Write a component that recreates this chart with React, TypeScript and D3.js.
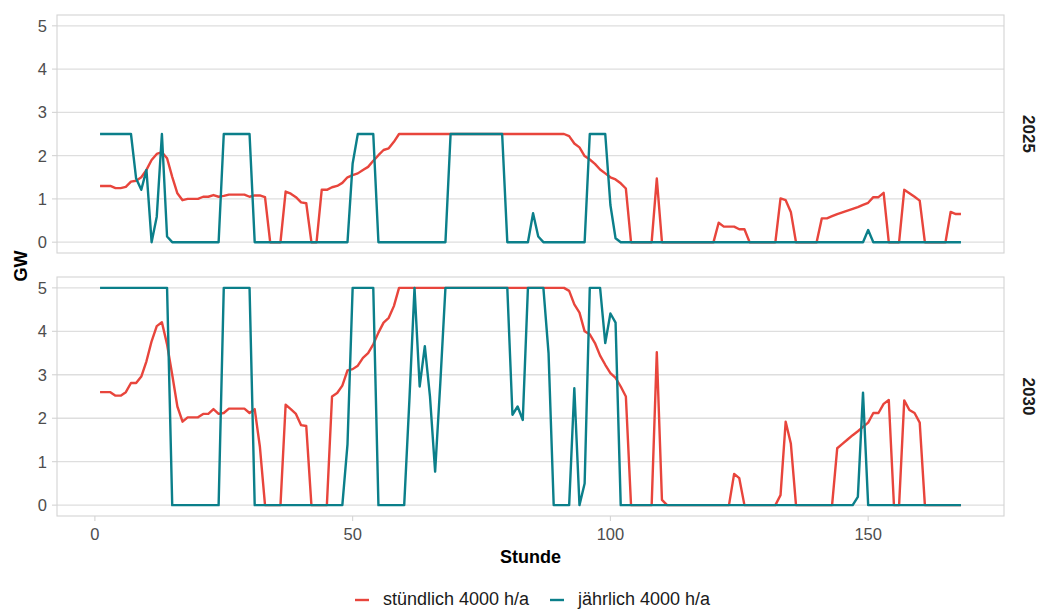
import React from 'react';
import * as d3 from 'd3';

// ---- data ----
const HOURS: number[] = Array.from({ length: 168 }, (_, i) => i + 1);
const PANELS = ['2025', '2030'];
const Y_TICKS = [0, 1, 2, 3, 4, 5];
const X_TICKS = [0, 50, 100, 150];
const SERIES_NAMES = ['stündlich 4000 h/a', 'jährlich 4000 h/a'];
const X_TITLE = 'Stunde';
const Y_TITLE = 'GW';

const stuendlich2025 = [
  1.30, 1.30, 1.30, 1.25, 1.25, 1.28, 1.40, 1.42, 1.50, 1.67,
  1.90, 2.04, 2.08, 1.94, 1.51, 1.13, 0.97, 1.00, 1.00, 1.00,
  1.05, 1.05, 1.09, 1.05, 1.07, 1.10, 1.10, 1.10, 1.10, 1.05,
  1.08, 1.08, 1.04, 0, 0, 0, 1.17, 1.12, 1.04, 0.92,
  0.90, 0, 0, 1.21, 1.21, 1.27, 1.30, 1.37, 1.50, 1.55,
  1.59, 1.67, 1.74, 1.88, 2.01, 2.13, 2.17, 2.32, 2.50, 2.50,
  2.5, 2.5, 2.5, 2.5, 2.5, 2.5, 2.5, 2.5, 2.5, 2.5,
  2.5, 2.5, 2.5, 2.5, 2.5, 2.5, 2.5, 2.5, 2.5, 2.5,
  2.5, 2.5, 2.5, 2.5, 2.5, 2.5, 2.5, 2.5, 2.5, 2.5,
  2.50, 2.45, 2.28, 2.19, 1.99, 1.91, 1.81, 1.68, 1.59, 1.50,
  1.45, 1.36, 1.24, 0, 0, 0, 0, 0, 1.47, 0,
  0, 0, 0, 0, 0, 0, 0, 0, 0, 0,
  0.45, 0.36, 0.36, 0.36, 0.30, 0.30, 0, 0, 0, 0,
  0, 0, 1.01, 0.97, 0.70, 0, 0, 0, 0, 0,
  0.55, 0.55, 0.60, 0.65, 0.69, 0.73, 0.77, 0.81, 0.86, 0.91,
  1.04, 1.04, 1.14, 0, 0, 0, 1.21, 1.13, 1.05, 0.96,
  0, 0, 0, 0, 0, 0.70, 0.65, 0.65,
];

const jaehrlich2025 = [
  2.5, 2.5, 2.5, 2.5, 2.5, 2.5, 2.5, 1.47, 1.21, 1.67,
  0, 0.59, 2.5, 0.13, 0, 0, 0, 0, 0, 0,
  0, 0, 0, 0, 2.5, 2.5, 2.5, 2.5, 2.5, 2.5,
  0, 0, 0, 0, 0, 0, 0, 0, 0, 0,
  0, 0, 0, 0, 0, 0, 0, 0, 0, 1.82,
  2.5, 2.5, 2.5, 2.5, 0, 0, 0, 0, 0, 0,
  0, 0, 0, 0, 0, 0, 0, 0, 2.5, 2.5,
  2.5, 2.5, 2.5, 2.5, 2.5, 2.5, 2.5, 2.5, 2.5, 0,
  0, 0, 0, 0, 0.67, 0.13, 0, 0, 0, 0,
  0, 0, 0, 0, 0, 2.5, 2.5, 2.5, 2.5, 0.86,
  0.09, 0, 0, 0, 0, 0, 0, 0, 0, 0,
  0, 0, 0, 0, 0, 0, 0, 0, 0, 0,
  0, 0, 0, 0, 0, 0, 0, 0, 0, 0,
  0, 0, 0, 0, 0, 0, 0, 0, 0, 0,
  0, 0, 0, 0, 0, 0, 0, 0, 0, 0.28,
  0, 0, 0, 0, 0, 0, 0, 0, 0, 0,
  0, 0, 0, 0, 0, 0, 0, 0,
];

const stuendlich2030 = [
  2.60, 2.60, 2.60, 2.52, 2.52, 2.60, 2.81, 2.81, 2.96, 3.31,
  3.77, 4.12, 4.21, 3.70, 3.00, 2.27, 1.92, 2.02, 2.02, 2.02,
  2.10, 2.10, 2.21, 2.10, 2.12, 2.22, 2.22, 2.22, 2.22, 2.12,
  2.21, 1.35, 0, 0, 0, 0, 2.31, 2.21, 2.10, 1.84,
  1.82, 0, 0, 0, 0, 2.50, 2.58, 2.75, 3.10, 3.13,
  3.21, 3.39, 3.50, 3.70, 3.97, 4.20, 4.31, 4.58, 5, 5,
  5, 5, 5, 5, 5, 5, 5, 5, 5, 5,
  5, 5, 5, 5, 5, 5, 5, 5, 5, 5,
  5, 5, 5, 5, 5, 5, 5, 5, 5, 5,
  5, 4.93, 4.62, 4.43, 4.00, 3.93, 3.73, 3.44, 3.23, 3.04,
  2.93, 2.73, 2.50, 0, 0, 0, 0, 0, 3.52, 0.12,
  0, 0, 0, 0, 0, 0, 0, 0, 0, 0,
  0, 0, 0, 0.72, 0.62, 0, 0, 0, 0, 0,
  0, 0, 0.23, 1.92, 1.42, 0, 0, 0, 0, 0,
  0, 0, 0, 1.31, 1.41, 1.51, 1.61, 1.70, 1.80, 1.90,
  2.12, 2.12, 2.33, 2.42, 0, 0, 2.41, 2.19, 2.12, 1.90,
  0, 0, 0, 0, 0, 0, 0, 0,
];

const jaehrlich2030 = [
  5, 5, 5, 5, 5, 5, 5, 5, 5, 5,
  5, 5, 5, 5, 0, 0, 0, 0, 0, 0,
  0, 0, 0, 0, 5, 5, 5, 5, 5, 5,
  0, 0, 0, 0, 0, 0, 0, 0, 0, 0,
  0, 0, 0, 0, 0, 0, 0, 0, 1.4, 5,
  5, 5, 5, 5, 0, 0, 0, 0, 0, 0,
  2.4, 5, 2.73, 3.66, 2.5, 0.77, 2.8, 5, 5, 5,
  5, 5, 5, 5, 5, 5, 5, 5, 5, 5,
  2.08, 2.27, 1.96, 5, 5, 5, 5, 3.5, 0, 0,
  0, 0, 2.69, 0, 0.5, 5, 5, 5, 3.73, 4.41,
  4.2, 0, 0, 0, 0, 0, 0, 0, 0, 0,
  0, 0, 0, 0, 0, 0, 0, 0, 0, 0,
  0, 0, 0, 0, 0, 0, 0, 0, 0, 0,
  0, 0, 0, 0, 0, 0, 0, 0, 0, 0,
  0, 0, 0, 0, 0, 0, 0, 0.19, 2.59, 0,
  0, 0, 0, 0, 0, 0, 0, 0, 0, 0,
  0, 0, 0, 0, 0, 0, 0, 0,
];

const PANEL_DATA = [
  [stuendlich2025, jaehrlich2025],
  [stuendlich2030, jaehrlich2030],
];

const COLORS = ['#E8453C', '#0B7F8A'];
const FONT = '"Liberation Sans", Arial, Helvetica, sans-serif';

export default function App() {
  const W = 1037;
  const H = 610;
  const left = 57;
  const right = 1004;
  const panelBounds: [number, number][] = [
    [15, 253],
    [277, 516],
  ];

  const xMin = d3.min(HOURS)!;
  const xMax = d3.max(HOURS)!;
  const xPad = (xMax - xMin) * 0.05;
  const x = d3.scaleLinear().domain([xMin - xPad, xMax + xPad]).range([left, right]);

  const gridColor = '#DEDEDE';
  const borderColor = '#D4D4D4';

  return (
    <svg
      width={W}
      height={H}
      style={{ position: 'absolute', left: 0, top: 0, background: '#fff' }}
      fontFamily={FONT}
    >
      <rect x={0} y={0} width={W} height={H} fill="#fff" />
      {PANELS.map((p, pi) => {
        const [top, bottom] = panelBounds[pi];
        const y = d3.scaleLinear().domain([-0.25, 5.25]).range([bottom, top]);
        const line = d3
          .line<number>()
          .x((_, i) => x(HOURS[i]))
          .y((d) => y(d));
        return (
          <g key={p}>
            {Y_TICKS.map((t) => (
              <g key={t}>
                <line x1={left} x2={right} y1={y(t)} y2={y(t)} stroke={gridColor} strokeWidth={1.3} />
                <line x1={left - 5} x2={left} y1={y(t)} y2={y(t)} stroke={borderColor} strokeWidth={1.1} />
                <text
                  x={left - 10}
                  y={y(t)}
                  dy="0.36em"
                  textAnchor="end"
                  fontSize={16.5}
                  fill="#4D4D4D"
                >
                  {t}
                </text>
              </g>
            ))}
            <rect
              x={left}
              y={top}
              width={right - left}
              height={bottom - top}
              fill="none"
              stroke={borderColor}
              strokeWidth={1.1}
            />
            {PANEL_DATA[pi].map((vals, si) => (
              <path
                key={si}
                d={line(vals) || ''}
                fill="none"
                stroke={COLORS[si]}
                strokeWidth={2.4}
                strokeLinejoin="round"
              />
            ))}
            <text
              x={1029}
              y={(top + bottom) / 2}
              transform={`rotate(90, 1029, ${(top + bottom) / 2})`}
              textAnchor="middle"
              dy="0.36em"
              fontSize={17}
              fontWeight="bold"
              fill="#1A1A1A"
            >
              {p}
            </text>
          </g>
        );
      })}
      {X_TICKS.map((t) => (
        <g key={t}>
          <line x1={x(t)} x2={x(t)} y1={516} y2={521} stroke={borderColor} strokeWidth={1.1} />
          <text x={x(t)} y={540} textAnchor="middle" fontSize={16.5} fill="#4D4D4D">
            {t}
          </text>
        </g>
      ))}
      <text x={(left + right) / 2} y={563} textAnchor="middle" fontSize={18} fontWeight="bold" fill="#000">
        {X_TITLE}
      </text>
      <text
        x={21}
        y={266}
        transform="rotate(-90, 21, 266)"
        textAnchor="middle"
        dy="0.36em"
        fontSize={18}
        fontWeight="bold"
        fill="#000"
      >
        {Y_TITLE}
      </text>
      {SERIES_NAMES.map((name, i) => {
        const lx = i === 0 ? 355 : 550;
        return (
          <g key={name}>
            <line x1={lx} x2={lx + 14} y1={600} y2={600} stroke={COLORS[i]} strokeWidth={2.4} />
            <text x={lx + 28} y={605} fontSize={18} fill="#1A1A1A">
              {name}
            </text>
          </g>
        );
      })}
    </svg>
  );
}
